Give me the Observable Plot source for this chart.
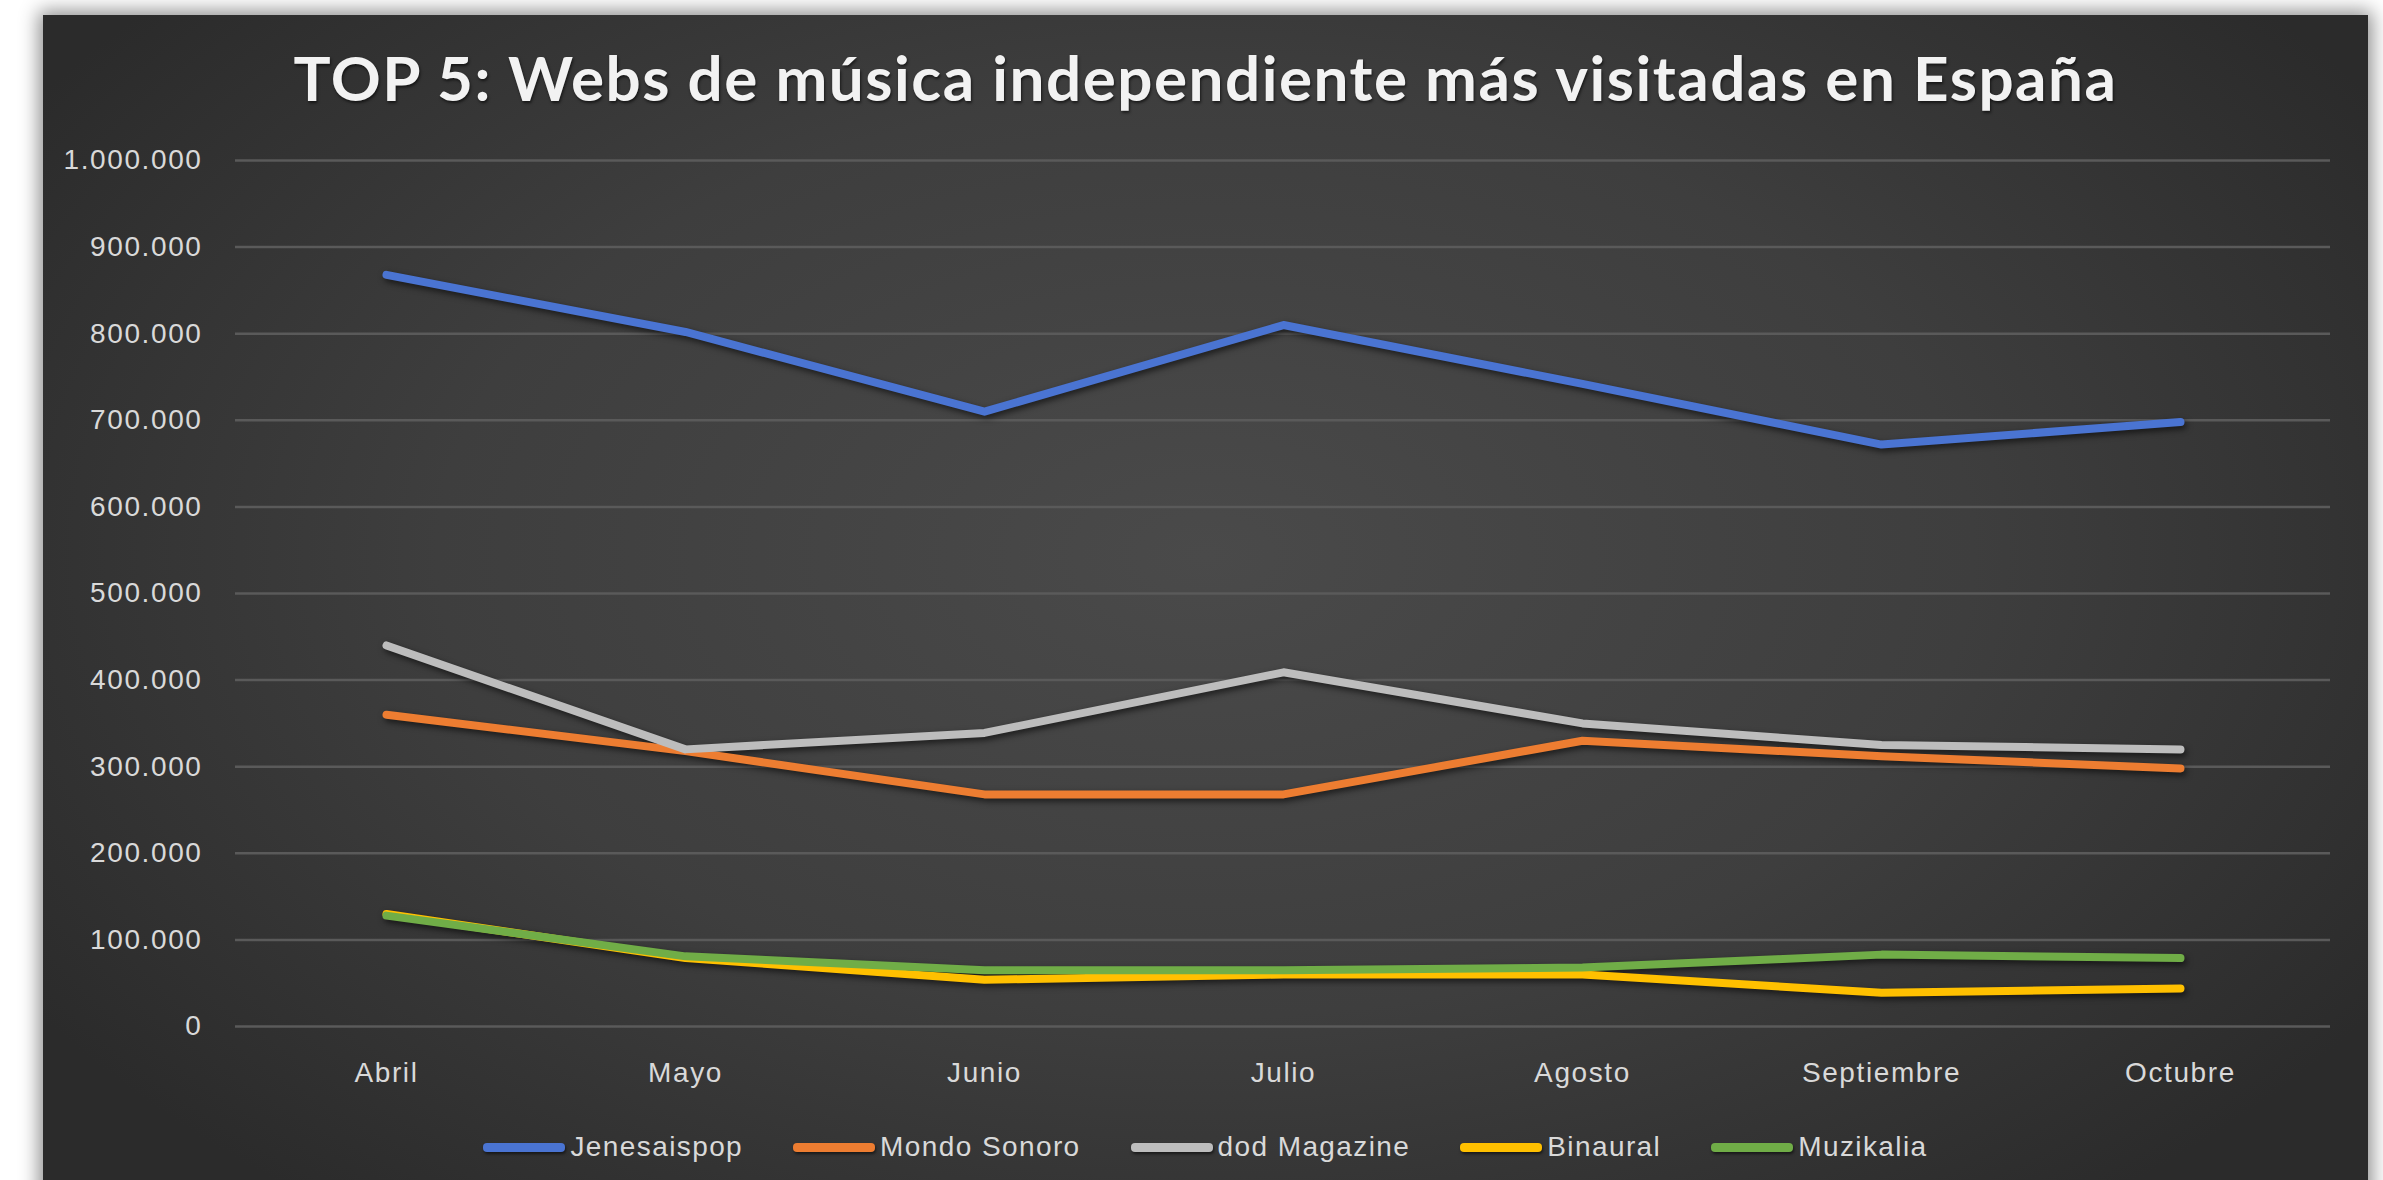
<!DOCTYPE html>
<html>
<head>
<meta charset="utf-8">
<script src="https://cdn.jsdelivr.net/npm/d3@7"></script>
<script src="https://cdn.jsdelivr.net/npm/@observablehq/plot@0.6"></script>
<style>
  html, body { margin: 0; padding: 0; background: #ffffff; width: 2383px; height: 1180px; overflow: hidden; }
  #panel {
    position: absolute; left: 43px; top: 15px; width: 2325px; height: 1200px;
    background: radial-gradient(ellipse 60% 70% at 50% 45%, #4a4a4a 0%, #3e3e3e 55%, #2b2b2b 100%);
    box-shadow: 0 0 18px 4px rgba(0,0,0,0.45);
    font-family: "Liberation Sans", "DejaVu Sans", sans-serif;
  }
  #title {
    position: absolute; left: 0; top: 25px; width: 100%; text-align: center;
    font-family: Lato, "Open Sans", sans-serif; font-weight: 700; font-size: 62px;
    letter-spacing: 1.5px; color: #f2f2f2; line-height: normal;
    text-shadow: 1px 2px 3px rgba(0,0,0,0.6);
  }
  #chart { position: absolute; left: 0; top: 85px; }
  #legend {
    position: absolute; left: 0; top: 1115px; width: 100%;
    display: flex; justify-content: center; gap: 50px;
    font-size: 28px; color: #d9d9d9; letter-spacing: 1.4px; line-height: 34px;
  }
  .item { display: flex; align-items: center; gap: 5px; }
  .sw { width: 82px; height: 9px; border-radius: 4px; box-shadow: 1px 2px 3px rgba(0,0,0,0.55); }
</style>
</head>
<body>
<div id="panel">
  <div id="title"></div>
  <div id="chart"></div>
  <div id="legend"></div>
</div>
<script>
const titleText = "TOP 5: Webs de música independiente más visitadas en España";
const months = ["Abril", "Mayo", "Junio", "Julio", "Agosto", "Septiembre", "Octubre"];
const seriesNames = ["Jenesaispop", "Mondo Sonoro", "dod Magazine", "Binaural", "Muzikalia"];
const seriesColors = ["#4A74D2", "#ED7D31", "#BDBDBD", "#FFC000", "#70AD47"];
const jenesaispop = [868000, 802000, 710000, 810000, 742000, 672000, 698000];
const mondoSonoro = [360000, 318000, 268000, 268000, 330000, 312000, 298000];
const dodMagazine = [440000, 320000, 339000, 409000, 350000, 325000, 320000];
const binaural = [130000, 79000, 54000, 60000, 60000, 39000, 44000];
const muzikalia = [128000, 81000, 65000, 65000, 68000, 83000, 79000];
const yTicks = [0, 100000, 200000, 300000, 400000, 500000, 600000, 700000, 800000, 900000, 1000000];

const seriesValues = [jenesaispop, mondoSonoro, dodMagazine, binaural, muzikalia];
const data = seriesNames.flatMap((s, k) => months.map((m, i) => ({serie: s, month: m, value: seriesValues[k][i]})));

const locale = d3.formatLocale({decimal: ",", thousands: ".", grouping: [3], currency: ["", "€"]});
const fmt = locale.format(",d");

document.getElementById("title").textContent = titleText;

const chart = Plot.plot({
  width: 2320,
  height: 1000,
  marginLeft: 192,
  marginRight: 33,
  marginTop: 60,
  marginBottom: 74,
  style: {background: "transparent", color: "#d9d9d9", fontFamily: "Liberation Sans, DejaVu Sans, sans-serif", fontSize: "28px", letterSpacing: "1.6px"},
  x: {type: "point", domain: months, padding: 0.5, label: null},
  y: {domain: [0, 1000000], label: null},
  color: {domain: seriesNames, range: seriesColors},
  marks: [
    Plot.ruleY(yTicks, {stroke: "#5a5a5a", strokeWidth: 2.5}),
    Plot.axisY(yTicks, {tickSize: 0, tickPadding: 33, tickFormat: fmt, label: null, fill: "#d9d9d9"}),
    Plot.axisX(months, {tickSize: 0, tickPadding: 36, label: null, fill: "#d9d9d9"}),
    Plot.line(data, {x: "month", y: "value", z: "serie", stroke: "serie", strokeWidth: 8, strokeLinejoin: "round", strokeLinecap: "round"})
  ]
});
chart.querySelectorAll('g[aria-label="line"]').forEach(g => g.style.filter = "drop-shadow(2px 3px 3px rgba(0,0,0,0.6))");
document.getElementById("chart").appendChild(chart);

const legend = document.getElementById("legend");
seriesNames.forEach((s, k) => {
  const it = document.createElement("div");
  it.className = "item";
  const sw = document.createElement("div");
  sw.className = "sw";
  sw.style.background = seriesColors[k];
  const t = document.createElement("span");
  t.textContent = s;
  it.appendChild(sw); it.appendChild(t);
  legend.appendChild(it);
});
</script>
</body>
</html>
